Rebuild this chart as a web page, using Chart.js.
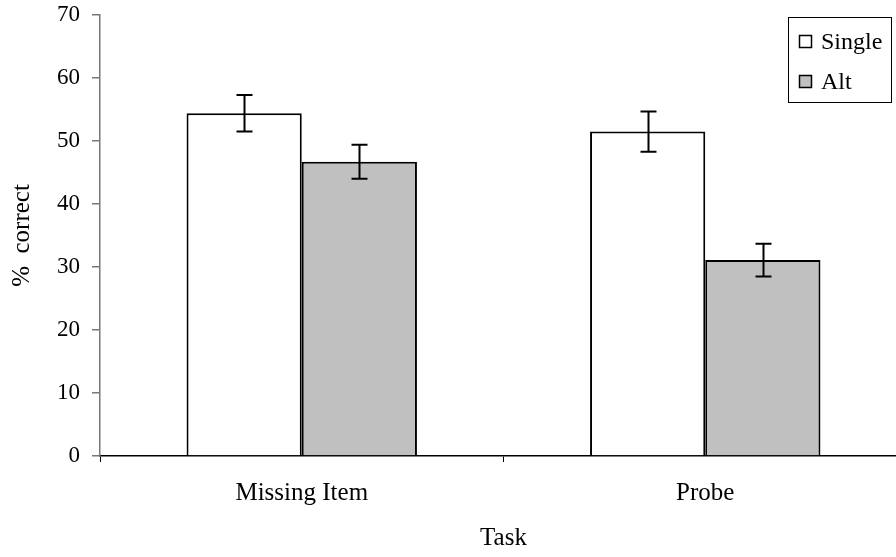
<!DOCTYPE html>
<html>
<head>
<meta charset="utf-8">
<script src="https://cdn.jsdelivr.net/npm/chart.js@4.4.1/dist/chart.umd.min.js"></script>
<style>
  html, body { margin: 0; padding: 0; background: #ffffff; overflow: hidden; }
  #wrap { position: relative; width: 912px; height: 557px; }
  #chart { display: block; }
</style>
</head>
<body>
<div id="wrap"><canvas id="chart" width="912" height="557"></canvas></div>
<script>
// Percent correct by task, for the single and alternating conditions
const categories = ['Missing Item', 'Probe'];
const seriesNames = ['Single', 'Alt'];
const singleValues = [54.4, 51.5];
const altValues = [46.7, 31.1];
const singleErrors = [2.9, 3.2];
const altErrors = [2.7, 2.6];
const yTicks = [0, 10, 20, 30, 40, 50, 60, 70];

const FONT = '"Liberation Serif", "Times New Roman", serif';

// Error bars drawn from each dataset's errors through the y scale
const errorBarPlugin = {
  id: 'errorBars',
  afterDatasetsDraw(chart) {
    const ctx = chart.ctx;
    const y = chart.scales.y;
    ctx.save();
    ctx.strokeStyle = '#000000';
    ctx.lineWidth = 2;
    chart.data.datasets.forEach((ds, i) => {
      const meta = chart.getDatasetMeta(i);
      meta.data.forEach((bar, j) => {
        const v = ds.data[j];
        const e = ds.errors[j];
        const x = Math.round(bar.x) + 0.5;
        const yTop = y.getPixelForValue(v + e);
        const yBot = y.getPixelForValue(v - e);
        const cap = 8;
        ctx.beginPath();
        ctx.moveTo(x, yTop); ctx.lineTo(x, yBot);
        ctx.moveTo(x - cap, yTop); ctx.lineTo(x + cap, yTop);
        ctx.moveTo(x - cap, yBot); ctx.lineTo(x + cap, yBot);
        ctx.stroke();
      });
    });
    ctx.restore();
  }
};

// Boxed legend inside the top-right of the plot
const boxLegendPlugin = {
  id: 'boxLegend',
  afterDraw(chart) {
    const ctx = chart.ctx;
    const left = 788.5, top = 17.5, w = 103, h = 85;
    ctx.save();
    ctx.fillStyle = '#ffffff';
    ctx.fillRect(left, top, w, h);
    ctx.strokeStyle = '#000000';
    ctx.lineWidth = 1;
    ctx.strokeRect(left, top, w, h);
    ctx.font = '24px ' + FONT;
    ctx.textBaseline = 'middle';
    ctx.textAlign = 'left';
    const rows = [42, 82];
    chart.data.datasets.forEach((ds, i) => {
      const cy = rows[i];
      ctx.fillStyle = ds.backgroundColor;
      ctx.fillRect(799.5, cy - 6.5, 12, 12);
      ctx.lineWidth = 1.5;
      ctx.strokeStyle = '#000000';
      ctx.strokeRect(799.5, cy - 6.5, 12, 12);
      ctx.fillStyle = '#000000';
      ctx.fillText(ds.label, 821, cy + 1);
    });
    ctx.restore();
  }
};

new Chart(document.getElementById('chart'), {
  type: 'bar',
  data: {
    labels: categories,
    datasets: [
      {
        label: seriesNames[0],
        data: singleValues,
        errors: singleErrors,
        backgroundColor: '#ffffff',
        borderColor: '#000000',
        borderWidth: 2,
        borderSkipped: 'bottom'
      },
      {
        label: seriesNames[1],
        data: altValues,
        errors: altErrors,
        backgroundColor: '#c0c0c0',
        borderColor: '#000000',
        borderWidth: 2,
        borderSkipped: 'bottom'
      }
    ]
  },
  options: {
    responsive: false,
    animation: false,
    devicePixelRatio: 1,
    layout: { padding: { top: 15, right: 5, left: 0, bottom: 0 } },
    datasets: { bar: { barPercentage: 1.0, categoryPercentage: 0.571 } },
    plugins: {
      legend: { display: false },
      tooltip: { enabled: false }
    },
    scales: {
      x: {
        offset: true,
        grid: {
          offset: true,
          drawOnChartArea: false,
          drawTicks: true,
          tickLength: 6,
          color: '#000000',
          lineWidth: 1
        },
        border: { color: '#000000', width: 1.5 },
        ticks: {
          color: '#000000',
          font: { family: FONT, size: 25 },
          padding: 16,
          maxRotation: 0
        },
        title: {
          display: true,
          text: 'Task',
          color: '#000000',
          font: { family: FONT, size: 25 },
          padding: { top: 4, bottom: 4 }
        },
        afterFit(scale) {
          scale.height = 101;
          scale.paddingLeft = 0;
          scale.paddingRight = 0;
        }
      },
      y: {
        min: 0,
        max: 70,
        afterBuildTicks(scale) { scale.ticks = yTicks.map(v => ({ value: v })); },
        grid: {
          drawOnChartArea: false,
          drawTicks: true,
          tickLength: 8,
          color: '#777777',
          lineWidth: 1.5
        },
        border: { color: '#777777', width: 1.5 },
        ticks: {
          color: '#000000',
          font: { family: FONT, size: 23 },
          padding: 12
        },
        title: {
          display: true,
          text: '%  correct',
          color: '#000000',
          font: { family: FONT, size: 25 },
          padding: { top: 7, bottom: 4 }
        },
        afterFit(scale) {
          scale.width = 100;
          scale.paddingTop = 0;
          scale.paddingBottom = 0;
        }
      }
    }
  },
  plugins: [errorBarPlugin, boxLegendPlugin]
});
</script>
</body>
</html>
